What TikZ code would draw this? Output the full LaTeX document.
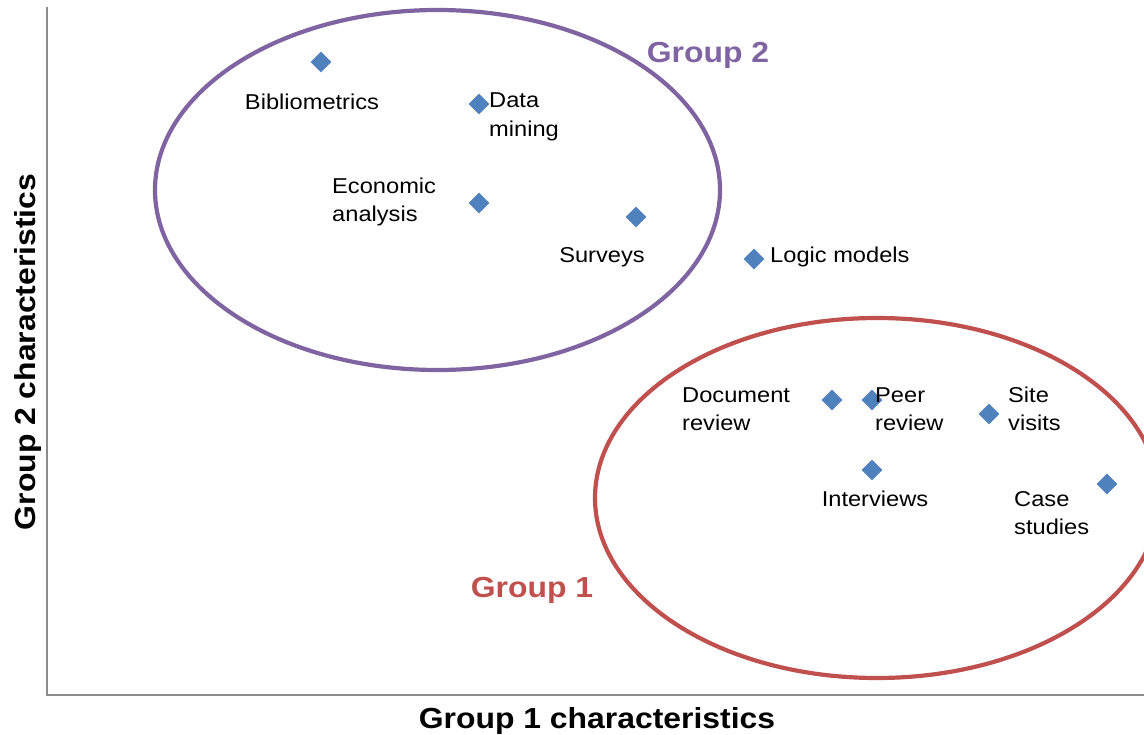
\documentclass[tikz,border=0pt]{standalone}
\usepackage{fontspec}
\setmainfont{Liberation Sans}[FakeStretch=1.1]
\usetikzlibrary{shapes.geometric}
\definecolor{gpurple}{HTML}{8064A2}
\definecolor{gred}{HTML}{C0504D}
\definecolor{mblue}{HTML}{4F81BD}
\definecolor{axisgray}{HTML}{8C8C8C}
\tikzset{
  pt/.style={diamond, fill=mblue, draw=none, minimum size=21pt, inner sep=0pt},
  lbl/.style={font=\fontsize{21.5}{28.5}\selectfont, inner sep=0pt, align=left},
  ttl/.style={font=\fontsize{29}{34}\selectfont\bfseries, inner sep=0pt},
  axis/.style={draw=axisgray, line width=2pt},
  grp/.style={line width=4.2pt}
}
\begin{document}
\begin{tikzpicture}[x=1pt,y=-1pt]
\useasboundingbox (0,0) rectangle (1144,735);
\clip (0,0) rectangle (1144,735);
% axes
\coordinate (ytop) at (47,7);
\coordinate (orig) at (47,695);
\coordinate (xend) at (1144,695);
\draw[axis] (ytop) -- (orig) -- (xend);
% group ellipses
\draw[grp, gpurple] (437.5,190) ellipse [x radius=282.5, y radius=180];
\draw[grp, gred] (877,498) ellipse [x radius=282, y radius=180];
% titles
\node[ttl, text=gpurple] (g2) at (708,55) {Group 2};
\node[ttl, text=gred] (g1) at (532,590) {Group 1};
\node[ttl] (xl) at (597,721) {Group 1 characteristics};
\node[ttl, rotate=90] (yl) at (28,352) {Group 2 characteristics};
% points
\node[pt] (p1) at (321,62) {};
\node[pt] (p2) at (479,104) {};
\node[pt] (p3) at (479,203) {};
\node[pt] (p4) at (636,217) {};
\node[pt] (p5) at (754,259) {};
\node[pt] (p6) at (832,400) {};
\node[pt] (p7) at (872,400) {};
\node[pt] (p8) at (989,414) {};
\node[pt] (p9) at (872,470) {};
\node[pt] (p10) at (1107,484) {};
% labels
\node[lbl] (l1) at (312,102) {Bibliometrics};
\node[lbl, anchor=west] (l2) at (489,117) {Data\\mining};
\node[lbl, anchor=west] (l3) at (332,202) {Economic\\analysis};
\node[lbl] (l4) at (602,257) {Surveys};
\node[lbl, anchor=west] (l5) at (770,257) {Logic models};
\node[lbl, anchor=west] (l6) at (682,409) {Document\\review};
\node[lbl, anchor=west] (l7) at (875,409) {Peer\\review};
\node[lbl, anchor=west] (l8) at (1008,409) {Site\\visits};
\node[lbl] (l9) at (875,499) {Interviews};
\node[lbl, anchor=west] (l10) at (1014,513) {Case\\studies};
\end{tikzpicture}
\end{document}
